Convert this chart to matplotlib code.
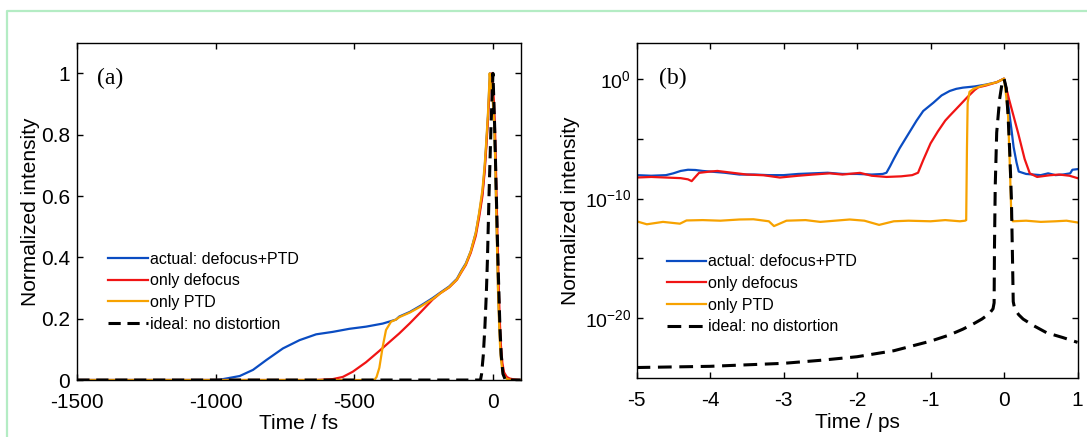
import numpy as np
import matplotlib
matplotlib.use("Agg")
import matplotlib.pyplot as plt
from matplotlib.lines import Line2D
from matplotlib.ticker import FixedLocator, NullFormatter

plt.rcParams['font.family'] = ['Liberation Sans', 'DejaVu Sans']
plt.rcParams['axes.unicode_minus'] = False
plt.rcParams['mathtext.fontset'] = 'custom'
plt.rcParams['mathtext.rm'] = 'Liberation Sans'

# ---- panel (a): linear intensity vs time in fs ----
t_a_blue = [-1500, -1000, -986, -914, -866, -818, -758, -698, -638, -578, -518, -458, -398, -350,
            -338, -300, -260, -218, -190, -158, -130, -115, -98, -80, -62, -50, -38, -30, -24, -18,
            -14, -11, -7, -3, 0, 4, 8, 12, 16, 19, 24, 28, 34, 40, 50, 60, 75, 100]
i_a_blue = [0, 0, 0.001, 0.013, 0.033, 0.065, 0.103, 0.13, 0.149, 0.157, 0.167, 0.174, 0.184, 0.197,
            0.207, 0.222, 0.243, 0.267, 0.285, 0.305, 0.33, 0.355, 0.38, 0.42, 0.48, 0.54, 0.61, 0.69,
            0.77, 0.86, 0.94, 1.0, 0.98, 0.95, 0.92, 0.86, 0.74, 0.556, 0.4, 0.28, 0.16, 0.087, 0.04,
            0.016, 0.006, 0.002, 0.0005, 0]

t_a_red = [-1500, -640, -578, -542, -506, -458, -410, -362, -338, -300, -260, -218, -190, -158, -130,
           -115, -98, -80, -62, -50, -38, -30, -24, -18, -14, -11, -5, 0, 4, 8, 12, 16, 20, 24, 28,
           34, 40, 50, 60, 75, 100]
i_a_red = [0, 0, 0.003, 0.01, 0.027, 0.058, 0.095, 0.133, 0.152, 0.185, 0.222, 0.262, 0.283, 0.302,
           0.327, 0.35, 0.375, 0.415, 0.47, 0.53, 0.6, 0.68, 0.76, 0.85, 0.92, 0.97, 1.0, 0.96, 0.9,
           0.8, 0.64, 0.48, 0.33, 0.21, 0.12, 0.055, 0.025, 0.01, 0.005, 0.002, 0]

t_a_orange = [-1500, -428, -420, -410, -398, -386, -368, -350, -338, -300, -260, -218, -190, -158,
              -130, -115, -98, -80, -62, -50, -38, -30, -24, -18, -14, -12, -8, -3, 0, 4, 8, 12, 16,
              19, 24, 28, 34, 40, 50, 60, 75, 100]
i_a_orange = [0, 0, 0.01, 0.04, 0.108, 0.163, 0.19, 0.197, 0.205, 0.22, 0.24, 0.264, 0.283, 0.303,
              0.328, 0.352, 0.378, 0.42, 0.48, 0.545, 0.62, 0.7, 0.78, 0.87, 0.95, 1.0, 0.97, 0.93,
              0.9, 0.84, 0.72, 0.54, 0.38, 0.26, 0.14, 0.075, 0.03, 0.012, 0.004, 0.001, 0, 0]

t_a_ideal = [-1500, -45, -41, -35, -29, -24, -20, -14, -7, 0, 6, 12, 18, 25, 30, 36, 45, 100]
i_a_ideal = [0, 0, 0.02, 0.08, 0.175, 0.28, 0.39, 0.61, 0.83, 1.0, 0.83, 0.61, 0.39, 0.175, 0.08,
             0.02, 0, 0]

# ---- panel (b): log10 of intensity vs time in ps ----
t_b_blue = [-5.0, -4.8, -4.6, -4.5, -4.4, -4.3, -4.2, -4.1, -4.0, -3.8, -3.6, -3.4, -3.2, -3.0, -2.8,
            -2.6, -2.4, -2.2, -2.0, -1.8, -1.65, -1.6, -1.55, -1.5, -1.42, -1.3, -1.19, -1.1, -0.96,
            -0.85, -0.74, -0.65, -0.56, -0.4, -0.25, -0.1, 0.0, 0.03, 0.07, 0.1, 0.13, 0.17, 0.2,
            0.3, 0.4, 0.5, 0.6, 0.7, 0.8, 0.9, 0.93, 1.0]
lg_b_blue = [-8.05, -8.1, -8.05, -7.9, -7.7, -7.6, -7.62, -7.7, -7.75, -7.85, -8.0, -8.0, -8.05,
             -8.05, -7.95, -7.9, -7.85, -7.95, -7.95, -8.0, -7.95, -7.85, -7.3, -6.7, -5.8, -4.6,
             -3.5, -2.7, -2.0, -1.4, -1.03, -0.85, -0.75, -0.65, -0.5, -0.3, 0.0, -0.8, -2.8, -4.2,
             -5.7, -7.0, -7.75, -7.95, -8.0, -8.05, -7.9, -8.05, -8.0, -7.9, -7.6, -7.55]

t_b_red = [-5.0, -4.8, -4.6, -4.4, -4.3, -4.25, -4.2, -4.15, -4.0, -3.9, -3.7, -3.5, -3.27, -3.05,
           -2.8, -2.6, -2.37, -2.2, -1.96, -1.8, -1.6, -1.4, -1.25, -1.17, -1.1, -1.0, -0.9, -0.8,
           -0.74, -0.6, -0.5, -0.4, -0.35, -0.25, -0.1, 0.0, 0.068, 0.19, 0.28, 0.35, 0.45, 0.62,
           0.75, 0.89, 1.0]
lg_b_red = [-8.25, -8.2, -8.25, -8.3, -8.4, -8.55, -8.2, -7.86, -7.75, -7.7, -7.85, -8.0, -8.06,
            -8.25, -8.1, -8.0, -7.9, -8.0, -7.86, -8.1, -8.2, -8.15, -8.05, -7.85, -6.8, -5.4, -4.4,
            -3.5, -3.1, -2.2, -1.55, -0.95, -0.72, -0.58, -0.3, 0.0, -1.72, -4.5, -6.7, -7.9, -8.2,
            -8.06, -8.0, -8.1, -8.3]

t_b_orange = [-5.0, -4.86, -4.64, -4.41, -4.32, -4.1, -3.86, -3.6, -3.41, -3.2, -3.13, -2.96, -2.7,
              -2.5, -2.3, -2.1, -1.9, -1.7, -1.5, -1.3, -1.0, -0.8, -0.6, -0.53, -0.515, -0.505,
              -0.495, -0.47, -0.41, -0.3, -0.2, -0.1, 0.0, 0.03, 0.055, 0.08, 0.1, 0.12, 0.3, 0.5,
              0.7, 0.85, 1.0]
lg_b_orange = [-11.9, -12.15, -11.95, -12.1, -11.83, -11.8, -11.85, -11.75, -11.73, -11.9, -12.3,
               -11.85, -11.8, -11.95, -11.85, -11.75, -11.85, -12.2, -11.9, -11.85, -11.9, -11.8,
               -11.9, -11.85, -11.8, -6.0, -2.0, -1.1, -0.83, -0.6, -0.45, -0.3, 0.0, -1.5, -3.1,
               -7.5, -11.6, -11.9, -11.85, -11.95, -11.9, -11.85, -12.0]

t_b_ideal = [-5.0, -4.0, -3.0, -2.5, -2.0, -1.5, -1.0, -0.75, -0.56, -0.4, -0.3, -0.2, -0.15, -0.135,
             -0.13, -0.12, -0.1, -0.06, -0.03, 0.0, 0.03, 0.055, 0.08, 0.1, 0.115, 0.125, 0.145, 0.2,
             0.26, 0.4, 0.58, 0.8, 1.0]
lg_b_ideal = [-24.1, -24.0, -23.75, -23.5, -23.2, -22.7, -21.9, -21.4, -20.9, -20.4, -20.05, -19.6,
              -19.2, -18.7, -14.0, -9.0, -4.5, -1.7, -0.5, 0.0, -0.8, -3.1, -6.5, -10.0, -15.0,
              -18.6, -19.2, -19.7, -20.06, -20.6, -21.2, -21.6, -22.0]

labels = ['actual: defocus+PTD', 'only defocus', 'only PTD', 'ideal: no distortion']
colors = ['#0a4cc2', '#f01414', '#f7a200', 'black']

fig = plt.figure(figsize=(10.87, 4.37), dpi=100)
axa = fig.add_axes([0.0711, 0.1304, 0.4079, 0.7719])
axb = fig.add_axes([0.5856, 0.1343, 0.4057, 0.768])

# light green frame of the figure box
fig.add_artist(Line2D([0.0062, 0.0062, 1.0], [0.0, 0.9748, 0.9748],
                      transform=fig.transFigure, color='#b4ecc4', lw=1.6))

lw = 1.6
axa.plot(t_a_blue, i_a_blue, color=colors[0], lw=lw, label=labels[0])
axa.plot(t_a_red, i_a_red, color=colors[1], lw=lw, label=labels[1])
axa.plot(t_a_orange, i_a_orange, color=colors[2], lw=lw, label=labels[2])
axa.plot(t_a_ideal, i_a_ideal, color=colors[3], lw=2.2, ls=(0, (4, 2.2)), label=labels[3])

axb.plot(t_b_blue, 10.0 ** np.array(lg_b_blue), color=colors[0], lw=lw, label=labels[0])
axb.plot(t_b_red, 10.0 ** np.array(lg_b_red), color=colors[1], lw=lw, label=labels[1])
axb.plot(t_b_orange, 10.0 ** np.array(lg_b_orange), color=colors[2], lw=lw, label=labels[2])
axb.plot(t_b_ideal, 10.0 ** np.array(lg_b_ideal), color=colors[3], lw=2.2, ls=(0, (4.5, 2.5)),
         label=labels[3])

axa.set_xlim(-1500, 100)
axa.set_ylim(0, 1.1)
axa.set_xticks([-1500, -1000, -500, 0])
axa.set_yticks([0, 0.2, 0.4, 0.6, 0.8, 1])
axa.set_yticklabels(['0', '0.2', '0.4', '0.6', '0.8', '1'])
axa.set_xlabel('Time / fs', fontsize=15, labelpad=2)
axa.set_ylabel('Normalized intensity', fontsize=15, labelpad=1)

axb.set_yscale('log')
axb.set_xlim(-5, 1)
axb.set_ylim(1e-25, 1e3)
axb.set_xticks([-5, -4, -3, -2, -1, 0, 1])
axb.yaxis.set_major_locator(FixedLocator([1e-20, 1e-10, 1e0]))
axb.set_yticklabels([r'$\mathregular{10^{-20}}$', r'$\mathregular{10^{-10}}$', r'$\mathregular{10^{0}}$'])
axb.yaxis.set_minor_locator(FixedLocator([1e-15, 1e-5]))
axb.yaxis.set_minor_formatter(NullFormatter())
axb.set_xlabel('Time / ps', fontsize=15, labelpad=2)
axb.set_ylabel('Normalized intensity', fontsize=15, labelpad=3)

for ax in (axa, axb):
    ax.tick_params(which='both', direction='in', top=True, right=True, length=4, width=1,
                   labelsize=15)
    ax.tick_params(axis='x', pad=9)
    ax.tick_params(axis='y', pad=5)
    for s in ax.spines.values():
        s.set_linewidth(1.0)
axb.tick_params(axis='y', labelsize=14, pad=4)

axa.text(0.044, 0.893, '(a)', transform=axa.transAxes, fontsize=17, va='center',
         family='Liberation Serif')
axb.text(0.051, 0.893, '(b)', transform=axb.transAxes, fontsize=17, va='center',
         family='Liberation Serif')

axa.legend(loc='center left', bbox_to_anchor=(0.07, 0.262), frameon=False, fontsize=11.5,
           handlelength=2.5, handletextpad=0.1, labelspacing=0.42, borderpad=0, borderaxespad=0)
axb.legend(loc='center left', bbox_to_anchor=(0.068, 0.25), frameon=False, fontsize=11.5,
           handlelength=2.5, handletextpad=0.1, labelspacing=0.42, borderpad=0, borderaxespad=0)

fig.savefig('out.png', dpi=100)
